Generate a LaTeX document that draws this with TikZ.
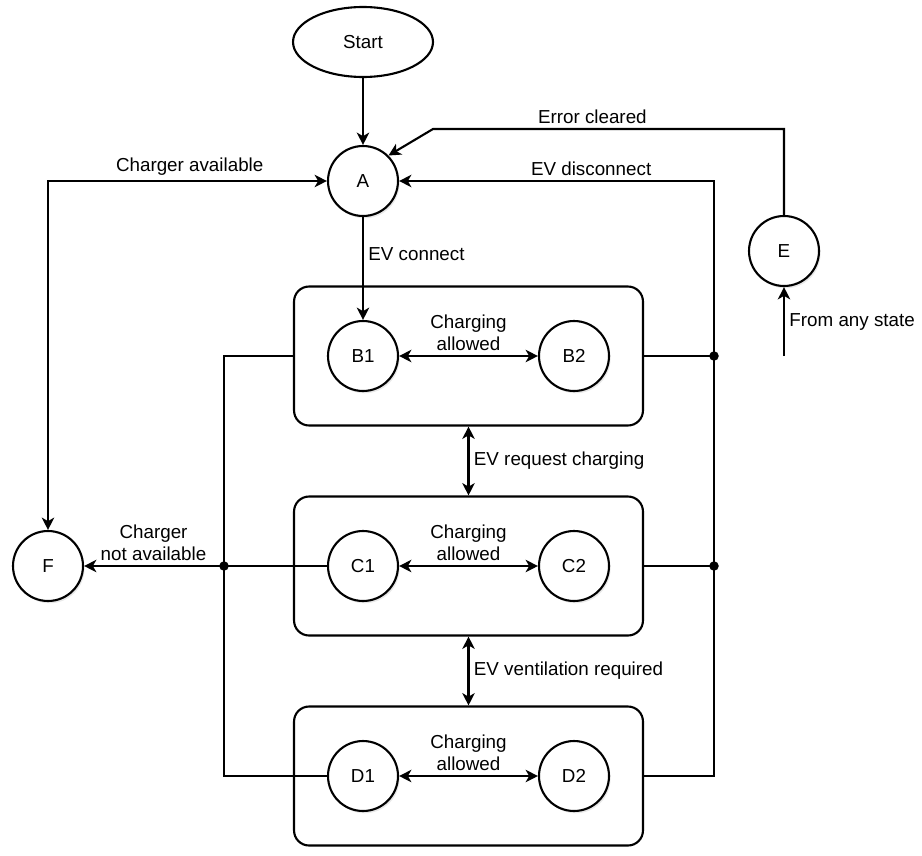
\documentclass[tikz,border=0pt]{standalone}
\usepackage{fontspec}
\setmainfont{Liberation Sans}
\usetikzlibrary{arrows.meta,shapes.geometric,shadows}

\tikzset{
  state/.style={circle,draw,fill=white,line width=1.2pt,minimum size=1.4cm,inner sep=0pt,
    drop shadow={opacity=0.18,shadow xshift=0.9pt,shadow yshift=-1.3pt}},
  group/.style={rectangle,rounded corners=0.3cm,draw,line width=1.2pt,
    minimum width=6.98cm,minimum height=2.78cm},
  arr/.style={-{Stealth[length=7pt,width=7pt,inset=2pt]}},
  dbl/.style={{Stealth[length=7pt,width=7pt,inset=2pt]}-{Stealth[length=7pt,width=7pt,inset=2pt]}},
  lbl/.style={inner sep=2.5pt,align=center}
}

\begin{document}
\begin{tikzpicture}[x=0.02cm,y=-0.02cm,line width=1.2pt,font=\fontsize{10.7}{12.6}\selectfont]
    \useasboundingbox (0,0) rectangle (922,855);
    %% groups
    \node[group] (boxB) at (468.5,356) {};
    \node[group] (boxC) at (468.5,566) {};
    \node[group] (boxD) at (468.5,776) {};
    %% states
    \node[ellipse,draw,minimum width=2.8cm,minimum height=1.4cm] (start) at (363,42) {Start};
    \node[state] (A) at (363,181) {A};
    \node[state] (E) at (784,251) {E};
    \node[state] (F) at (48,566) {F};
    \node[state] (B1) at (363,356) {B1};
    \node[state] (B2) at (574,356) {B2};
    \node[state] (C1) at (363,566) {C1};
    \node[state] (C2) at (574,566) {C2};
    \node[state] (D1) at (363,776) {D1};
    \node[state] (D2) at (574,776) {D2};
    %% junctions
    \coordinate (ec) at (433,129);
    \coordinate (jR) at (714,776);
    \coordinate (jL) at (224,566);
    \coordinate (any) at (784,356);
    %% transitions
    \draw[arr] (start) -- (A);
    \draw[arr] (E) |- node[lbl,pos=0.773,above]{Error cleared} (ec) -- (A.north east);
    \draw[arr] (boxD.east) -- (jR) |- (A.east)
    node[lbl,pos=0.695,above]{EV disconnect};
    \draw (boxB.east) -- (boxB.east -| jR);
    \draw (boxC.east) -- (boxC.east -| jR);
    \fill (boxB.east -| jR) circle (2.7pt);
    \fill (boxC.east -| jR) circle (2.7pt);
    \draw[dbl] (A.west) -| (F.north)
    node[lbl,pos=0.246,above]{Charger available};
    \draw[arr] (A) -- (B1)
    node[lbl,pos=0.36,right]{EV connect};
    \draw[arr] (any) -- (E)
    node[lbl,midway,right]{From any state};
    %% inside the groups
    \draw[dbl] (B1) -- (B2) node[lbl,midway,above]{Charging\\allowed};
    \draw[dbl] (C1) -- (C2) node[lbl,midway,above]{Charging\\allowed};
    \draw[dbl] (D1) -- (D2) node[lbl,midway,above]{Charging\\allowed};
    \draw[dbl] (boxB.south) -- (boxC.north)
    node[lbl,midway,right]{EV request charging};
    \draw[dbl] (boxC.south) -- (boxD.north)
    node[lbl,midway,right]{EV ventilation required};
    %% to F
    \draw (boxB.west) -| (jL) |- (D1.west);
    \draw[arr] (C1.west) -- (F.east)
    node[lbl,pos=0.714,above]{Charger\\not available};
    \fill (jL) circle (2.7pt);
  \end{tikzpicture}
\end{document}
